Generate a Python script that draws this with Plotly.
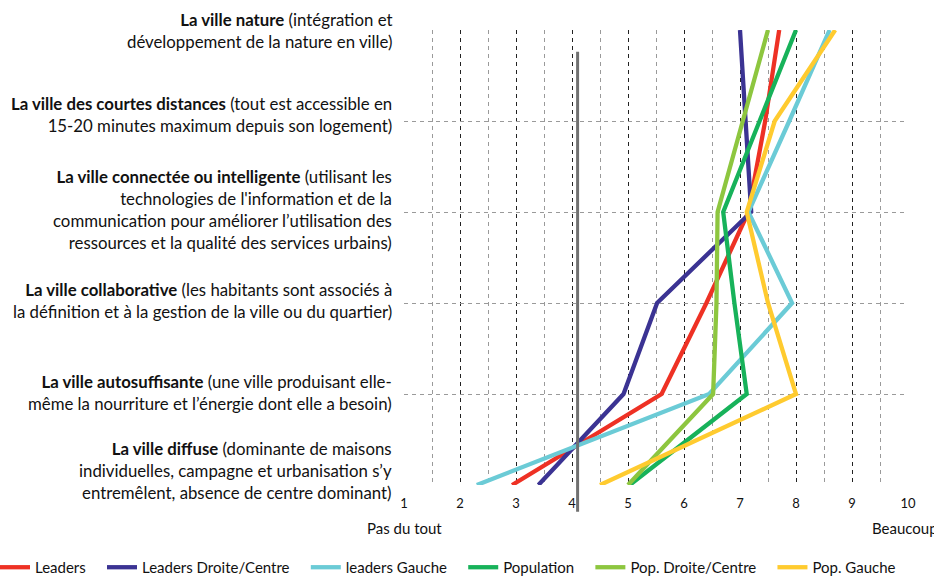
import plotly.graph_objects as go

# Categories, from bottom (index 0) to top
categories = [
    "La ville diffuse",
    "La ville autosuffisante",
    "La ville collaborative",
    "La ville connectée ou intelligente",
    "La ville des courtes distances",
    "La ville nature",
]
category_descriptions = [
    "(dominante de maisons<br>individuelles, campagne et urbanisation s’y<br>entremêlent, absence de centre dominant)",
    "(une ville produisant elle-<br>même la nourriture et l’énergie dont elle a besoin)",
    "(les habitants sont associés à<br>la définition et à la gestion de la ville ou du quartier)",
    "(utilisant les<br>technologies de l'information et de la<br>communication pour améliorer l’utilisation des<br>ressources et la qualité des services urbains)",
    "(tout est accessible en<br>15-20 minutes maximum depuis son logement)",
    "(intégration et<br>développement de la nature en ville)",
]

series_names = ["Leaders", "Leaders Droite/Centre", "leaders Gauche",
                "Population", "Pop. Droite/Centre", "Pop. Gauche"]
leaders = [2.93, 5.6, 6.4, 7.15, 7.45, 7.7]
leaders_droite = [3.4, 4.92, 5.52, 7.2, 7.1, 7.0]
leaders_gauche = [2.3, 6.45, 7.93, 7.15, 7.88, 8.6]
population = [5.03, 7.12, 6.9, 6.7, 7.35, 8.0]
pop_droite = [5.0, 6.52, 6.58, 6.6, 7.05, 7.5]
pop_gauche = [4.5, 8.0, 7.5, 7.12, 7.62, 8.7]
series_values = [leaders, leaders_droite, leaders_gauche, population, pop_droite, pop_gauche]

reference_value = 4.1
x_tick_values = [1, 2, 3, 4, 5, 6, 7, 8, 9, 10]
x_left_label = "Pas du tout"
x_right_label = "Beaucoup"

colors = ["#EE3124", "#3B3393", "#6BCBD6", "#17B25A", "#8DC63F", "#FFCB2F"]
label_yshift = [15, 2, 3, 3, 7, 0]

FONT = "Lato"
LEGEND_PAD = "\u2003"

fig = go.Figure()
for i, (name, vals, col) in enumerate(zip(series_names, series_values, colors)):
    fig.add_trace(go.Scatter(
        x=vals, y=categories, mode="lines",
        name=name + (LEGEND_PAD if i < len(series_names) - 1 else ""),
        line=dict(color=col, width=4.3),
    ))

# reference vertical line
fig.add_shape(type="line", xref="x", yref="paper",
              x0=reference_value, x1=reference_value, y0=-0.059, y1=0.952,
              line=dict(color="#707070", width=3))

# category labels
for cat, desc, ys in zip(categories, category_descriptions, label_yshift):
    fig.add_annotation(
        xref="paper", yref="y", x=0, y=cat, xanchor="right", yanchor="middle",
        xshift=-10, yshift=ys, align="right", showarrow=False,
        text=f"<b>{cat}</b> {desc}",
        font=dict(family=FONT, size=16.8, color="#111111"),
    )

fig.add_annotation(xref="x", yref="paper", x=x_tick_values[0], y=-0.07,
                   yanchor="top", showarrow=False, text=x_left_label,
                   font=dict(family=FONT, size=15, color="#111111"))
fig.add_annotation(xref="x", yref="paper", x=x_tick_values[-1], y=-0.07,
                   yanchor="top", xanchor="left", xshift=-38, showarrow=False,
                   text=x_right_label,
                   font=dict(family=FONT, size=15, color="#111111"))

fig.update_layout(
    width=934, height=577,
    margin=dict(l=404, r=26, t=30, b=92, autoexpand=False),
    paper_bgcolor="white", plot_bgcolor="white",
    font=dict(family=FONT, size=13, color="#111111"),
    showlegend=True,
    legend=dict(orientation="h", x=-0.8115, xanchor="left", y=-0.145, yanchor="top",
                font=dict(family=FONT, size=15, color="#111111"),
                itemwidth=30, tracegroupgap=0, bgcolor="rgba(0,0,0,0)"),
    xaxis=dict(range=[1, 10], tickvals=x_tick_values, showgrid=True,
               gridcolor="#222222", griddash="4px,4px", gridwidth=1,
               minor=dict(dtick=0.5, tick0=1, showgrid=True, gridcolor="#9a9a9a",
                          griddash="4px,4px", gridwidth=1),
               zeroline=False, showline=False, ticks="", ticklabelstandoff=9,
               tickfont=dict(family=FONT, size=13, color="#111111"), fixedrange=True),
    yaxis=dict(type="category", categoryarray=categories, range=[0, 5],
               tickvals=categories[1:], showticklabels=False, showgrid=True,
               gridcolor="#9a9a9a", griddash="4px,4px", gridwidth=1,
               zeroline=False, showline=False, ticks="", fixedrange=True),
)

fig.write_html("out.html", config={"displayModeBar": False},
               post_script="document.body.style.margin='0px';document.body.style.overflow='hidden';")
